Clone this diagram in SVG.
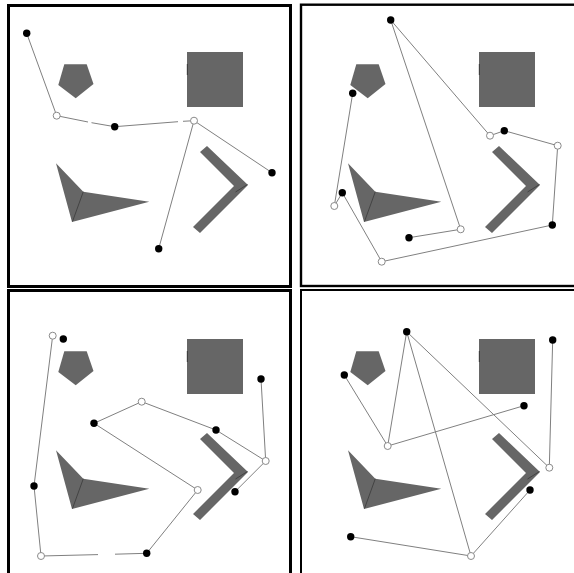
<svg xmlns="http://www.w3.org/2000/svg" xmlns:xlink="http://www.w3.org/1999/xlink" width="574" height="573" viewBox="0 0 574 573">
<style>
.frame{fill:none;stroke:#000}
.ob{fill:#666}
.fold{stroke:#3a3a3a;stroke-width:0.8;fill:none}
.edge{stroke:#808080;stroke-width:1;fill:none}
.b{fill:#000}
.o{fill:#fff;stroke:#8a8a8a;stroke-width:1}
</style>
<defs>
<g id="obst">
<polygon class="ob" points="64.3,64.3 86.7,64.3 93.5,84 75.7,98.3 58.3,85"/>
<rect class="ob" x="187" y="52" width="56" height="55"/>
<line x1="187.3" y1="64" x2="187.3" y2="75" stroke="#2a2a2a" stroke-width="0.8"/>
<polygon class="ob" points="56,163.3 83.3,191.7 149.3,201.7 72,222"/>
<line class="fold" x1="83.3" y1="191.7" x2="72.5" y2="221.5"/>
<polygon class="ob" points="200,152 207,146 248,185 200,233 193,227 234,186"/>
<line class="fold" x1="235.5" y1="192" x2="247.5" y2="184.5"/>
</g>
</defs>
<rect width="574" height="573" fill="#fff"/>
<g id="frames">
<rect class="frame" x="8.5" y="5.5" width="282" height="281" stroke-width="3"/>
<rect class="frame" x="301" y="4.7" width="300" height="281.3" stroke-width="2.4"/>
<rect class="frame" x="8.5" y="290.5" width="282" height="300" stroke-width="3"/>
<rect class="frame" x="301" y="290" width="300" height="300" stroke-width="2"/>
</g>
<g id="obstacles">
<use xlink:href="#obst"/>
<use xlink:href="#obst" transform="translate(292,0)"/>
<use xlink:href="#obst" transform="translate(0,287)"/>
<use xlink:href="#obst" transform="translate(292,287)"/>
</g>
<g id="connectors">
<!-- panel 1 -->
<path class="edge" d="M26.7,33.3L56.7,115.7 M56.7,115.7L88,122 M91.5,122.7L114.7,126.7 M114.7,126.7L178,121.7 M183,121.3L194,120.7 M194,120.7L272,172.7 M194,120.7L158.7,248.7"/>
<!-- panel 2 -->
<path class="edge" d="M390.7,20L490,135.7 M390.7,20L460.7,229.3 M460.7,229.3L409,237.7 M490,135.7L504.3,130.7 M504.3,130.7L557.7,145.7 M557.7,145.7L552.3,225 M552.3,225L381.7,261.7 M381.7,261.7L342.3,192.7 M342.3,192.7L334.3,206 M334.3,206L352.7,93.3"/>
<!-- panel 3 -->
<path class="edge" d="M52.7,335.7L34,486 M34,486L41,556 M41,556L98,554.6 M115,554.2L146.7,553.3 M146.7,553.3L197.7,490 M197.7,490L94,423.3 M94,423.3L141.7,401.7 M141.7,401.7L216,430 M216,430L265.7,461 M265.7,461L261,379 M265.7,461L235,491.7"/>
<!-- panel 4 -->
<path class="edge" d="M344.3,375L387.7,446 M387.7,446L406.7,331.7 M387.7,446L524,405.7 M406.7,331.7L549.3,467.7 M406.7,331.7L471,556 M549.3,467.7L552.7,340 M471,556L530,490 M471,556L350.7,536.7"/>
</g>
<g id="panel1-nodes">
<circle id="p1n1" class="b" cx="26.7" cy="33.3" r="3.7"/>
<circle id="p1n2" class="o" cx="56.7" cy="115.7" r="3.5"/>
<circle id="p1n3" class="b" cx="114.7" cy="126.7" r="3.7"/>
<circle id="p1n4" class="o" cx="194" cy="120.7" r="3.5"/>
<circle id="p1n5" class="b" cx="272" cy="172.7" r="3.7"/>
<circle id="p1n6" class="b" cx="158.7" cy="248.7" r="3.7"/>
</g>
<g id="panel2-nodes">
<circle id="p2n1" class="b" cx="390.7" cy="20" r="3.7"/>
<circle id="p2n2" class="o" cx="490" cy="135.7" r="3.5"/>
<circle id="p2n3" class="b" cx="504.3" cy="130.7" r="3.7"/>
<circle id="p2n4" class="o" cx="557.7" cy="145.7" r="3.5"/>
<circle id="p2n5" class="b" cx="552.3" cy="225" r="3.7"/>
<circle id="p2n6" class="o" cx="381.7" cy="261.7" r="3.5"/>
<circle id="p2n7" class="b" cx="342.3" cy="192.7" r="3.7"/>
<circle id="p2n8" class="o" cx="334.3" cy="206" r="3.5"/>
<circle id="p2n9" class="b" cx="352.7" cy="93.3" r="3.7"/>
<circle id="p2n10" class="o" cx="460.7" cy="229.3" r="3.5"/>
<circle id="p2n11" class="b" cx="409" cy="237.7" r="3.7"/>
</g>
<g id="panel3-nodes">
<circle id="p3n1" class="o" cx="52.7" cy="335.7" r="3.5"/>
<circle id="p3n2" class="b" cx="63.3" cy="339" r="3.7"/>
<circle id="p3n3" class="b" cx="34" cy="486" r="3.7"/>
<circle id="p3n4" class="o" cx="41" cy="556" r="3.5"/>
<circle id="p3n5" class="b" cx="146.7" cy="553.3" r="3.7"/>
<circle id="p3n6" class="o" cx="197.7" cy="490" r="3.5"/>
<circle id="p3n7" class="b" cx="94" cy="423.3" r="3.7"/>
<circle id="p3n8" class="o" cx="141.7" cy="401.7" r="3.5"/>
<circle id="p3n9" class="b" cx="216" cy="430" r="3.7"/>
<circle id="p3n10" class="o" cx="265.7" cy="461" r="3.5"/>
<circle id="p3n11" class="b" cx="261" cy="379" r="3.7"/>
<circle id="p3n12" class="b" cx="235" cy="491.7" r="3.7"/>
</g>
<g id="panel4-nodes">
<circle id="p4n1" class="b" cx="406.7" cy="331.7" r="3.7"/>
<circle id="p4n2" class="b" cx="344.3" cy="375" r="3.7"/>
<circle id="p4n3" class="o" cx="387.7" cy="446" r="3.5"/>
<circle id="p4n4" class="b" cx="524" cy="405.7" r="3.7"/>
<circle id="p4n5" class="b" cx="552.7" cy="340" r="3.7"/>
<circle id="p4n6" class="o" cx="549.3" cy="467.7" r="3.5"/>
<circle id="p4n7" class="b" cx="530" cy="490" r="3.7"/>
<circle id="p4n8" class="o" cx="471" cy="556" r="3.5"/>
<circle id="p4n9" class="b" cx="350.7" cy="536.7" r="3.7"/>
</g>
</svg>
